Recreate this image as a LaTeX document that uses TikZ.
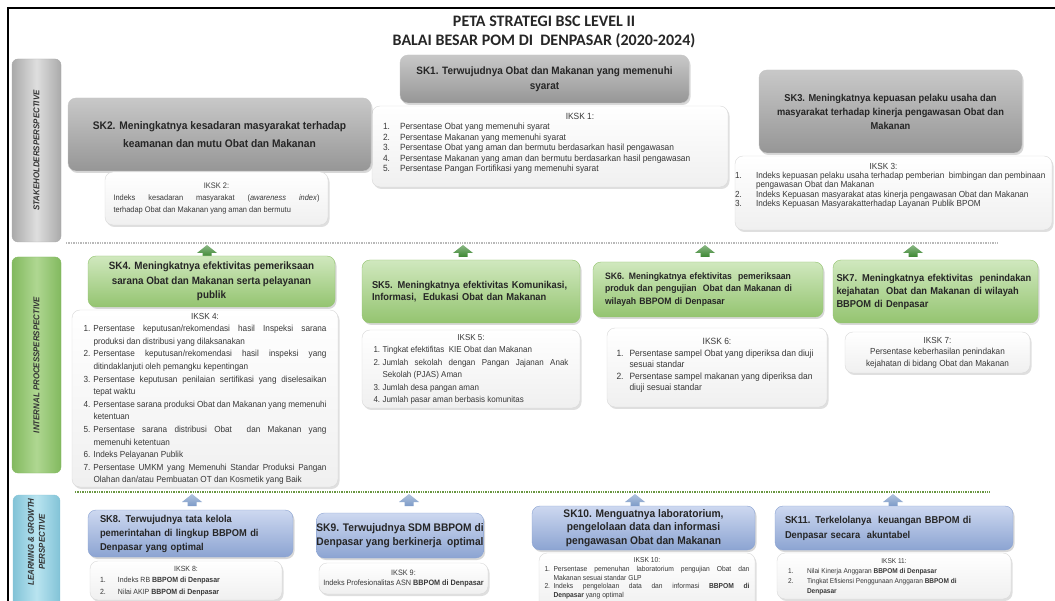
\documentclass[tikz,border=0pt]{standalone}
\usepackage{fontspec}
\setmainfont{Liberation Sans}[FakeStretch=0.93]
\newfontfamily\titlefont{Carlito}
\usepackage{array}
\usetikzlibrary{shadows}

\definecolor{skgreytop}{RGB}{200,200,200}
\definecolor{skgreybot}{RGB}{150,150,150}
\definecolor{skgreentop}{RGB}{208,232,190}
\definecolor{skgreenbot}{RGB}{148,196,112}
\definecolor{skbluetop}{RGB}{205,216,240}
\definecolor{skbluebot}{RGB}{140,164,210}
\definecolor{stkside}{RGB}{170,170,170}
\definecolor{stkmid}{RGB}{222,222,222}
\definecolor{intside}{RGB}{130,185,95}
\definecolor{intmid}{RGB}{175,215,145}
\definecolor{lrnside}{RGB}{130,195,215}
\definecolor{lrnmid}{RGB}{185,228,240}
\definecolor{dotgreen}{RGB}{105,150,65}
\definecolor{arrgreen}{RGB}{60,135,50}
\definecolor{arrblue}{RGB}{125,155,200}

\newcommand\jl[2]{\makebox[#1][s]{#2}}
\newcommand\lline[2]{\makebox[#1][l]{#2}}
\newcommand\ikskrows[3]{\begin{tabular}{@{}p{#1}@{}p{#2}@{}}#3\end{tabular}}

\tikzset{
  skbox/.style={rounded corners=8pt, inner sep=0pt, text=black!85,
    drop shadow={opacity=0.3, shadow xshift=1.5pt, shadow yshift=-2pt}},
  skgrey/.style={skbox, top color=skgreytop, bottom color=skgreybot, draw=gray!45},
  skgreen/.style={skbox, top color=skgreentop, bottom color=skgreenbot, draw=skgreenbot},
  skblue/.style={skbox, top color=skbluetop, bottom color=skbluebot, draw=skbluebot},
  iksk/.style={rounded corners=8pt, inner sep=0pt, top color=white, bottom color=gray!12,
    draw=gray!30, text=black!78,
    drop shadow={opacity=0.25, shadow xshift=1.5pt, shadow yshift=-2pt}},
  sidebar/.style={rounded corners=6pt, draw=#1side, left color=#1side, right color=#1side, middle color=#1mid},
  barlbl/.style={rotate=90, font=\fontsize{8.5}{11}\selectfont\bfseries\itshape, text=black!80, align=center},
  sepdots/.style={line width=2.4pt, dash pattern=on 1.3pt off 1.1pt},
  uparr/.style={top color=#1!60!white, bottom color=#1, draw=none}
}

\begin{document}
\begin{tikzpicture}[x=1pt, y=-1pt]
            \path[use as bounding box, fill=white] (0,0) rectangle (1055,601);
            \draw[line width=1.2pt] (1055,8) -- (8,8) -- (8,601);

            \node[font=\titlefont\bfseries\fontsize{16}{19}\selectfont, align=center, text=black!85] (title) at (544,31.5)
              {PETA STRATEGI BSC LEVEL II\\ BALAI BESAR POM DI\ \ DENPASAR (2020-2024)};

            \node[sidebar=stk, minimum width=49pt, minimum height=183pt] (stk) at (36.5,150.5) {};
            \node[barlbl] (stklbl) at (stk) {STAKEHOLDERSPERSPECTIVE};
            \node[sidebar=int, minimum width=49pt, minimum height=216pt] (int) at (36.5,365) {};
            \node[barlbl] (intlbl) at (int) {INTERNAL PROCESSPERSPECTIVE};
            \node[sidebar=lrn, minimum width=47pt, minimum height=112pt] (lrn) at (36.5,551) {};
            \node[barlbl] (lrnlbl) at (36.5,542) {LEARNING \& GROWTH\\ PERSPECTIVE};

            \draw[sepdots, gray!55] (66,243) -- (998,243);
            \draw[sepdots, dotgreen] (75,492) -- (990,492);
            \foreach \ax in {207,463,705,913}
              \path[uparr=arrgreen] (\ax-10,253) -- (\ax,245) -- (\ax+10,253) -- (\ax+4.5,253)
                -- (\ax+4.5,257) -- (\ax-4.5,257) -- (\ax-4.5,253) -- cycle;
            \foreach \ax in {192,409,635,893}
              \path[uparr=arrblue] (\ax-10,502) -- (\ax,494) -- (\ax+10,502) -- (\ax+4.5,502)
                -- (\ax+4.5,506) -- (\ax-4.5,506) -- (\ax-4.5,502) -- cycle;

            \node[skgrey, minimum width=289pt, minimum height=48pt, align=center,
              font=\fontsize{10.7}{15}\selectfont\bfseries] (sk1) at (544.5,79)
              {SK1. Terwujudnya Obat dan Makanan yang memenuhi\\ syarat};
            \node[iksk, minimum width=356pt, minimum height=81pt, font=\fontsize{9}{10.4}\selectfont] (iksk1) at (550,146.5)
              {\ikskrows{17pt}{317pt}{\multicolumn{2}{c}{\hspace*{60pt}IKSK 1:}\\
               1. & Persentase Obat yang memenuhi syarat\\
               2. & Persentase Makanan yang memenuhi syarat\\
               3. & Persentase Obat yang aman dan bermutu berdasarkan hasil pengawasan\\
               4. & Persentase Makanan yang aman dan bermutu berdasarkan hasil pengawasan\\
               5. & Persentase Pangan Fortifikasi yang memenuhi syarat\\[6pt]}};

            \node[skgrey, minimum width=303pt, minimum height=73pt, align=center,
              font=\fontsize{11}{18.5}\selectfont\bfseries] (sk2) at (219.5,134.5)
              {SK2. Meningkatnya kesadaran masyarakat terhadap\\ keamanan dan mutu Obat dan Makanan};
            \node[iksk, minimum width=223pt, minimum height=53pt, font=\fontsize{8}{12}\selectfont] (iksk2) at (216.5,198.5)
              {\begin{tabular}{@{}c@{}}IKSK 2:\\
               \jl{206pt}{Indeks kesadaran masyarakat (\textit{awareness index})}\\
               \lline{206pt}{terhadap Obat dan Makanan yang aman dan bermutu}\end{tabular}};

            \node[skgrey, minimum width=263pt, minimum height=83pt, align=center,
              font=\fontsize{10}{14}\selectfont\bfseries] (sk3) at (890.5,111.5)
              {SK3. Meningkatnya kepuasan pelaku usaha dan\\ masyarakat terhadap kinerja pengawasan Obat dan\\ Makanan};
            \node[iksk, minimum width=317pt, minimum height=74pt, font=\fontsize{8.8}{9.4}\selectfont] (iksk3) at (893.5,193)
              {\ikskrows{21pt}{296pt}{\multicolumn{2}{c}{\hspace*{-20pt}IKSK 3:}\\
               1. & Indeks kepuasan pelaku usaha terhadap pemberian\ \ bimbingan dan pembinaan\\
                  & pengawasan Obat dan Makanan\\
               2. & Indeks Kepuasan masyarakat atas kinerja pengawasan Obat dan Makanan\\
               3. & Indeks Kepuasan Masyarakatterhadap Layanan Publik BPOM\\[14pt]}};

            \node[skgreen, minimum width=247pt, minimum height=51pt, align=center,
              font=\fontsize{10.6}{14.5}\selectfont\bfseries] (sk4) at (211.5,281.5)
              {SK4. Meningkatnya efektivitas pemeriksaan\\ sarana Obat dan Makanan serta pelayanan\\ publik};
            \node[iksk, minimum width=266pt, minimum height=177pt, font=\fontsize{8.8}{12.6}\selectfont] (iksk4) at (205,398.5)
              {\ikskrows{10pt}{233pt}{\multicolumn{2}{c}{IKSK 4:}\\
               1. & \jl{233pt}{Persentase keputusan/rekomendasi hasil Inspeksi sarana}\\
                  & produksi dan distribusi yang dilaksanakan\\
               2. & \jl{233pt}{Persentase keputusan/rekomendasi hasil inspeksi yang}\\
                  & ditindaklanjuti oleh pemangku kepentingan\\
               3. & \jl{233pt}{Persentase keputusan penilaian sertifikasi yang diselesaikan}\\
                  & tepat waktu\\
               4. & \jl{233pt}{Persentase sarana produksi Obat dan Makanan yang memenuhi}\\
                  & ketentuan\\
               5. & \jl{233pt}{Persentase sarana distribusi Obat\ \ dan Makanan yang}\\
                  & memenuhi ketentuan\\
               6. & Indeks Pelayanan Publik\\
               7. & \jl{233pt}{Persentase UMKM yang Memenuhi Standar Produksi Pangan}\\
                  & Olahan dan/atau Pembuatan OT dan Kosmetik yang Baik}};

            \node[skgreen, minimum width=218pt, minimum height=63pt, align=left, text width=198pt,
              font=\fontsize{10}{11.7}\selectfont\bfseries] (sk5) at (471,291.5)
              {SK5. Meningkatnya efektivitas\ Komunikasi,\\ Informasi,\ \ Edukasi\ Obat dan Makanan};
            \node[iksk, minimum width=218pt, minimum height=78pt, font=\fontsize{8.6}{12.5}\selectfont] (iksk5) at (471,369)
              {\ikskrows{9pt}{186pt}{\multicolumn{2}{c}{IKSK 5:}\\
               1. & Tingkat efektifitas\ \ KIE Obat dan Makanan\\
               2. & \jl{186pt}{Jumlah sekolah dengan Pangan Jajanan Anak}\\
                  & Sekolah (PJAS) Aman\\
               3. & Jumlah desa pangan aman\\
               4. & Jumlah pasar aman berbasis komunitas}};

            \node[skgreen, minimum width=230pt, minimum height=55pt, align=left, text width=206pt,
              font=\fontsize{9.3}{12.5}\selectfont\bfseries] (sk6) at (708,289.5)
              {SK6. Meningkatnya efektivitas\ \ pemeriksaan\\ produk dan pengujian\ \ Obat dan Makanan di\\ wilayah BBPOM di Denpasar};
            \node[iksk, minimum width=220pt, minimum height=79pt, font=\fontsize{9.1}{11.5}\selectfont] (iksk6) at (717,367.5)
              {\ikskrows{13pt}{188pt}{\multicolumn{2}{c}{IKSK 6:}\\
               1. & Persentase sampel Obat yang diperiksa dan diuji\\
                  & sesuai standar\\
               2. & Persentase sampel makanan yang diperiksa dan\\
                  & diuji sesuai standar\\[4pt]}};

            \node[skgreen, minimum width=205pt, minimum height=63pt, align=left, text width=198pt,
              font=\fontsize{10}{13}\selectfont\bfseries] (sk7) at (935.5,291.5)
              {SK7. Meningkatnya efektivitas\ \ penindakan\\ kejahatan\ \ Obat dan Makanan di wilayah\\ BBPOM di Denpasar};
            \node[iksk, minimum width=185pt, minimum height=41pt, align=center,
              font=\fontsize{8.8}{11.5}\selectfont] (iksk7) at (937.5,352.5)
              {IKSK 7:\\ Persentase keberhasilan penindakan\\ kejahatan di bidang Obat dan Makanan};

            \node[skblue, minimum width=205pt, minimum height=47pt, align=left, text width=181pt,
              font=\fontsize{10}{14}\selectfont\bfseries] (sk8) at (190.5,533.5)
              {SK8. Terwujudnya tata kelola\\ pemerintahan di lingkup BBPOM di\\ Denpasar yang optimal};
            \node[iksk, minimum width=192pt, minimum height=39pt, font=\fontsize{7.5}{11.5}\selectfont] (iksk8) at (186,580.5)
              {\ikskrows{18pt}{154pt}{\multicolumn{2}{c}{IKSK 8:}\\
               1. & Indeks RB \textbf{BBPOM di Denpasar}\\
               2. & Nilai AKIP\ \textbf{BBPOM di Denpasar}}};

            \node[skblue, minimum width=165pt, minimum height=45pt, align=center,
              font=\fontsize{11}{13.5}\selectfont\bfseries] (sk9) at (400,535.5)
              {SK9. Terwujudnya SDM BBPOM di\\ Denpasar yang berkinerja\ \ optimal};
            \node[iksk, minimum width=169pt, minimum height=31pt, align=center,
              font=\fontsize{7.8}{10}\selectfont] (iksk9) at (403.5,578.5)
              {IKSK 9:\\ Indeks Profesionalitas ASN \textbf{BBPOM di Denpasar}};

            \node[skblue, minimum width=223pt, minimum height=44pt, align=center,
              font=\fontsize{11}{13.5}\selectfont\bfseries] (sk10) at (643.5,528)
              {SK10. Menguatnya laboratorium,\\ pengelolaan data dan informasi\\ pengawasan Obat dan Makanan};
            \node[iksk, minimum width=216pt, minimum height=57pt, font=\fontsize{7.2}{8.7}\selectfont] (iksk10) at (647,581.5)
              {\ikskrows{9pt}{196pt}{\multicolumn{2}{c}{IKSK 10:}\\
               1. & \jl{196pt}{Persentase pemenuhan laboratorium pengujian Obat dan}\\
                  & Makanan sesuai standar GLP\\
               2. & \jl{196pt}{Indeks pengelolaan data dan informasi \textbf{BBPOM di}}\\
                  & \textbf{Denpasar} yang optimal\\[6pt]}};

            \node[skblue, minimum width=238pt, minimum height=44pt, align=left, text width=218pt,
              font=\fontsize{10}{15}\selectfont\bfseries] (sk11) at (894,528)
              {SK11. Terkelolanya\ \ keuangan BBPOM di\\ Denpasar secara\ \ akuntabel};
            \node[iksk, minimum width=234pt, minimum height=46pt, font=\fontsize{7}{10}\selectfont] (iksk11) at (894,576)
              {\ikskrows{19pt}{193pt}{\multicolumn{2}{c}{IKSK 11:}\\
               1. & Nilai Kinerja Anggaran \textbf{BBPOM di Denpasar}\\
               2. & Tingkat Efisiensi Penggunaan Anggaran \textbf{BBPOM di}\\
                  & \textbf{Denpasar}}};
\end{tikzpicture}
\end{document}
